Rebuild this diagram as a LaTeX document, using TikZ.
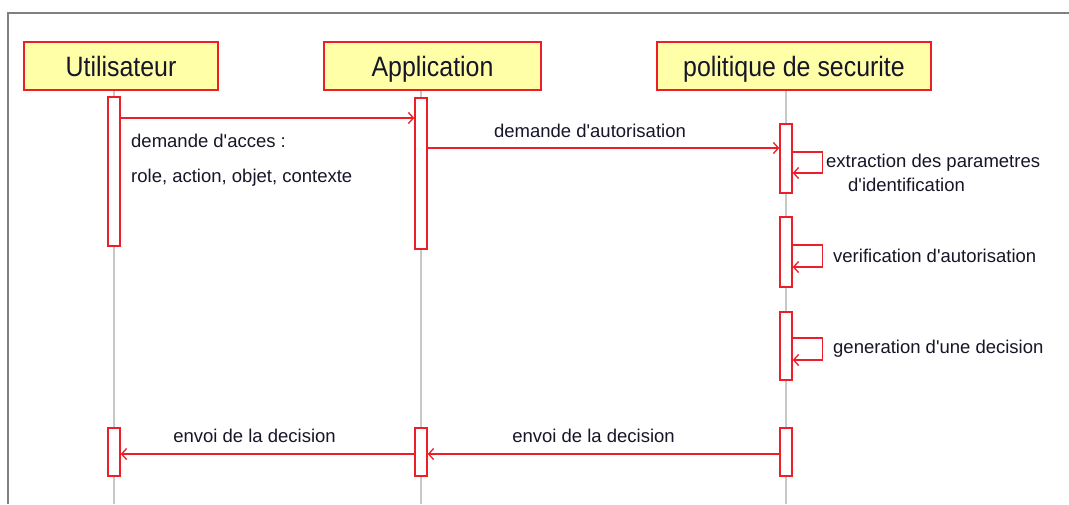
\documentclass[tikz,border=0pt]{standalone}
\usepackage{fontspec}
\setmainfont{Liberation Sans}
\usetikzlibrary{arrows.meta}

\definecolor{lnred}{RGB}{238,30,40}
\definecolor{hdfill}{RGB}{255,255,168}
\definecolor{lifegray}{RGB}{200,200,200}
\definecolor{framegray}{RGB}{128,128,128}
\definecolor{txt}{RGB}{22,22,40}

\newcommand{\hdtext}[1]{\scalebox{0.89}[1]{\fontsize{28}{32}\selectfont #1}}
\newcommand{\ap}{\textquotesingle}

\begin{document}
\begin{tikzpicture}[x=1pt,y=-1pt,
  header/.style={draw=lnred, fill=hdfill, line width=1.6pt, inner sep=0pt,
    minimum height=48pt, text height=24pt, text depth=4pt, text=txt},
  act/.style={draw=lnred, fill=white, line width=1.4pt, minimum width=12pt, inner sep=0pt},
  life/.style={draw=lifegray, line width=1.8pt},
  msg/.style={draw=lnred, line width=1.3pt, -{Straight Barb[length=5pt,width=11pt,line width=1.3pt]}},
  lbl/.style={font=\fontsize{18.5}{22}\selectfont, text=txt, inner sep=0pt},
  frameline/.style={draw=framegray, line width=2.2pt},
]
\useasboundingbox (0,0) rectangle (1069,504);
\fill[white] (0,0) rectangle (1069,504);

% outer frame (top and left edges)
\draw[frameline] (8,504) -- (8,13) -- (1069,13);

% participants
\node[header, minimum width=194pt] (hU) at (121,66) {\hdtext{Utilisateur}};
\node[header, minimum width=217pt] (hA) at (432.5,66) {\hdtext{Application}};
\node[header, minimum width=274pt] (hP) at (794,66) {\hdtext{politique de securite}};

% lifelines
\coordinate (lU) at (114,504);
\coordinate (lA) at (421,504);
\coordinate (lP) at (786,504);
\draw[life] (lU |- hU.south) -- (lU);
\draw[life] (lA |- hA.south) -- (lA);
\draw[life] (lP |- hP.south) -- (lP);

% activation bars
\node[act, minimum height=149pt] (uA) at (114,171.5) {};
\node[act, minimum height=151pt] (aA) at (421,173.5) {};
\node[act, minimum height=69pt]  (pA) at (786,158.5) {};
\node[act, minimum height=70pt]  (pB) at (786,252) {};
\node[act, minimum height=68pt]  (pC) at (786,346) {};
\node[act, minimum height=48pt]  (uB) at (114,452) {};
\node[act, minimum height=48pt]  (aB) at (421,452) {};
\node[act, minimum height=48pt]  (pD) at (786,452) {};

% requests
\draw[msg] (uA.east |- 0,118) -- (aA.west |- 0,118);
\draw[msg] (aA.east |- 0,148) -- (pA.west |- 0,148);

% self calls
\draw[msg] (pA.east |- 0,152) -- ++(30,0) -- ++(0,21) -- (pA.east |- 0,173);
\draw[msg] (pB.east |- 0,245) -- ++(30,0) -- ++(0,22) -- (pB.east |- 0,267);
\draw[msg] (pC.east |- 0,338) -- ++(30,0) -- ++(0,22) -- (pC.east |- 0,360);

% replies
\draw[msg] (pD.west |- 0,454) -- (aB.east |- 0,454);
\draw[msg] (aB.west |- 0,454) -- (uB.east |- 0,454);

% labels
\node[lbl, anchor=base west] (t1a) at (131,147) {demande d\ap acces :};
\node[lbl, anchor=base west] (t1b) at (131,182) {role, action, objet, contexte};
\node[lbl, anchor=base] (t2) at (590,137) {demande d\ap autorisation};
\node[lbl, anchor=base west] (t3a) at (826,167) {extraction des parametres};
\node[lbl, anchor=base west] (t3b) at (848,191) {d\ap identification};
\node[lbl, anchor=base west] (t4) at (833,262) {verification d\ap autorisation};
\node[lbl, anchor=base west] (t5) at (833,353) {generation d\ap une decision};
\node[lbl, anchor=base] (t6) at (593.5,442) {envoi de la decision};
\node[lbl, anchor=base] (t7) at (254.5,442) {envoi de la decision};
\end{tikzpicture}
\end{document}
